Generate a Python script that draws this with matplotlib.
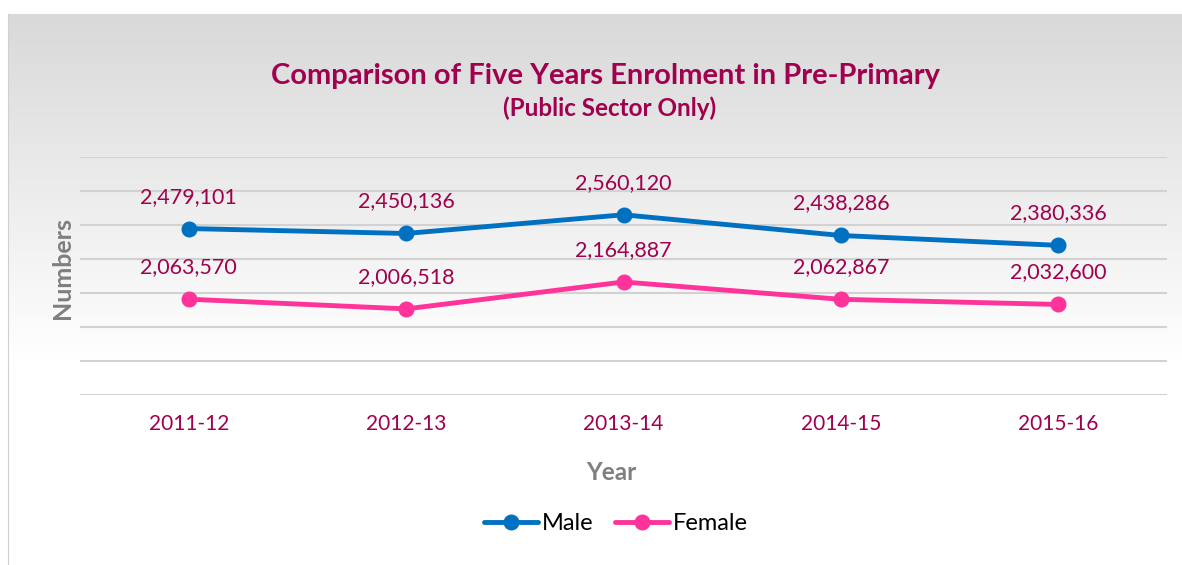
import matplotlib.pyplot as plt
import numpy as np

years = ["2011-12", "2012-13", "2013-14", "2014-15", "2015-16"]
male = [2479101, 2450136, 2560120, 2438286, 2380336]
female = [2063570, 2006518, 2164887, 2062867, 2032600]

title_col = "#A0004E"
male_col = "#0070C0"
female_col = "#FF3399"

plt.rcParams['font.family'] = ['Lato', 'DejaVu Sans']

fig = plt.figure(figsize=(11.82, 5.65), dpi=100)

# gradient panel behind the chart
bg = fig.add_axes([8 / 1182, 0, 1 - 8 / 1182, 1 - 14 / 565], zorder=0)
n = 400
t = np.linspace(0, 1, n)
# fade from grey at top to white about 2/3 of the way down
g = np.clip(t / 0.63, 0, 1)
shade = 0.85 + (1.0 - 0.85) * g
grad = np.repeat(shade[:, None, None], 3, axis=2).repeat(2, axis=1)
bg.imshow(grad, aspect="auto", extent=[0, 1, 0, 1], origin="upper")
bg.set_xlim(0, 1)
bg.set_ylim(0, 1)
bg.set_xticks([])
bg.set_yticks([])
for s in ["top", "right", "bottom"]:
    bg.spines[s].set_visible(False)
bg.spines["left"].set_color("#d0d0d0")

ax = fig.add_axes([80 / 1182, 1 - 395 / 565, 1087 / 1182, 238 / 565], zorder=1)
ax.patch.set_alpha(0)
x = np.arange(len(years))
ax.plot(x, male, color=male_col, lw=3.5, marker="o", ms=10.5, label="Male",
        solid_capstyle="round", zorder=3)
ax.plot(x, female, color=female_col, lw=3.5, marker="o", ms=10.5, label="Female",
        solid_capstyle="round", zorder=3)

for xi, v in zip(x, male):
    ax.annotate(f"{v:,}", (xi, v), xytext=(0, 23), textcoords="offset points",
                ha="center", va="center", fontsize=15.5, color=title_col)
for xi, v in zip(x, female):
    ax.annotate(f"{v:,}", (xi, v), xytext=(0, 23), textcoords="offset points",
                ha="center", va="center", fontsize=15.5, color=title_col)

ax.set_xlim(-0.5, len(years) - 0.5)
ax.set_ylim(1500000, 2900000)
ax.set_yticks(np.arange(1500000, 2900001, 200000))
ax.set_yticklabels([])
ax.tick_params(axis="y", length=0)
ax.set_xticks(x)
ax.set_xticklabels(years, fontsize=15, color=title_col)
ax.tick_params(axis="x", length=0, pad=14)
ax.grid(axis="y", color="#d2d2d2", lw=1.5)
for s in ax.spines.values():
    s.set_visible(False)

ax.set_xlabel("Year", fontsize=17.5, fontweight="bold", color="#7f7f7f", va="center")
ax.xaxis.set_label_coords((611 - 80) / 1087, (395 - 472) / 238)
ax.set_ylabel("Numbers", fontsize=18, fontweight="bold", color="#7f7f7f", va="center")
ax.yaxis.set_label_coords((62 - 80) / 1087, (395 - 268) / 238)

fig.text(0.512, 1 - 76 / 565, "Comparison of Five Years Enrolment in Pre-Primary",
         ha="center", va="center", fontsize=21, fontweight="bold", color=title_col)
fig.text(0.516, 1 - 108 / 565, "(Public Sector Only)",
         ha="center", va="center", fontsize=17.5, fontweight="bold", color=title_col)

fig.legend(loc="center", bbox_to_anchor=(0.521, 1 - 524 / 565), ncol=2, frameon=False,
           fontsize=17, handlelength=2.3, columnspacing=0.9, handletextpad=0.15)

fig.savefig("out.png", dpi=100)
